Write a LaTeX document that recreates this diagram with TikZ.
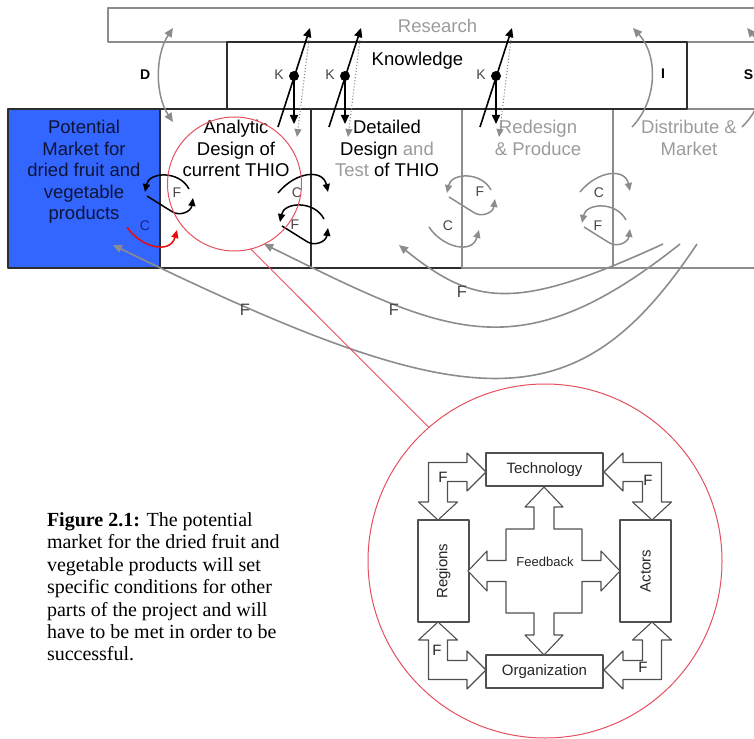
\documentclass[tikz,border=0pt]{standalone}
\usepackage{fontspec}
\setmainfont{Liberation Sans}
\newfontfamily\captionserif{Liberation Serif}
\usetikzlibrary{arrows.meta}

\definecolor{stageblue}{RGB}{51,102,255}
\definecolor{stageink}{RGB}{15,20,55}
\definecolor{paleline}{RGB}{140,140,140}
\definecolor{paletext}{RGB}{155,155,155}
\definecolor{edgeink}{RGB}{45,45,45}
\definecolor{tagink}{RGB}{70,70,70}
\definecolor{focusred}{RGB}{228,80,95}
\definecolor{loopred}{RGB}{235,10,10}
\definecolor{markblue}{RGB}{25,35,150}
\definecolor{schemeink}{RGB}{80,80,80}

\newcommand\setfs[2]{\fontsize{#1}{#2}\selectfont}

\tikzset{
  head/.style={-{Triangle[length=9pt,width=8pt]}},
  dualhead/.style={{Triangle[length=9pt,width=8pt]}-{Triangle[length=9pt,width=8pt]}},
  looppen/.style={line width=1.5pt,-{Triangle[length=8pt,width=7pt]}},
  % feedback cycle: two arrows chasing each other
  floop/.pic={
    \draw[looppen] (44,-3) .. controls (34,-22) and (4,-20) .. (0,0);
    \draw[looppen] (2,4) -- (26,19) .. controls (34,25) and (46,20) .. (48,6);
  },
  % condition arrows, arching over or under a stage border
  cover/.pic={\draw[looppen] (-33,0) .. controls (-15,-22) and (12,-24) .. (17,-1);},
  cunder/.pic={\draw[looppen] (-33,0) .. controls (-20,20) and (10,28) .. (17,3);},
}

\begin{document}
\begin{tikzpicture}[x=1pt,y=-1pt,line join=round,
  every node/.style={inner sep=0pt,outer sep=0pt},
  stagetext/.style={align=center,anchor=north,font=\setfs{18.5}{21.4}},
  tag/.style={font=\setfs{14}{16},text=tagink},
  bigtag/.style={font=\setfs{16.5}{18},text=tagink},
  linetag/.style={font=\bfseries\setfs{14}{16}},
  frame/.style={line width=1.3pt},
  schemebox/.style={draw=schemeink,fill=white,line width=1.1pt,font=\setfs{15}{17},text=black!85},
  schemetext/.style={font=\setfs{15}{17},text=black!85},
  schemearrow/.style={draw=schemeink,fill=white,line width=1.1pt},
]
\clip (0,0) rectangle (754,738);

% Research strip
\draw[paleline,frame] (108,8) rectangle (800,42);
\node[font=\setfs{18.5}{22},text=paletext,anchor=base] (research) at (437.5,32.3) {Research};

% stage boxes and the knowledge band
\fill[stageblue] (8,109) rectangle (160,268);
\draw[edgeink,frame] (8,109) rectangle (160,268);
\draw[edgeink,frame] (160,109) rectangle (311,268);
\draw[edgeink,frame] (311,109) rectangle (462,268);
\draw[paleline,frame] (462,109) rectangle (613,268);
\draw[paleline,frame] (613,109) rectangle (800,268);
\draw[edgeink,frame] (227,42) rectangle (687,109);
\node[font=\setfs{18.5}{22},anchor=base] (knowledge) at (417.5,65.7) {Knowledge};

\node[stagetext,text=stageink] (market) at (84,120.5) {Potential\\Market for\\dried fruit and\\vegetable\\products};
\node[stagetext] (analytic) at (236,120.5) {Analytic\\Design of\\current THIO};
\node[stagetext] (detailed) at (387,120.5) {Detailed\\Design \textcolor{paletext}{and}\\\textcolor{paletext}{Test} of THIO};
\node[stagetext,text=paletext] (redesign) at (538,120.5) {Redesign\\\& Produce};
\node[stagetext,text=paletext] (distribute) at (689,120.5) {Distribute \&\\Market};

% D, I, S links to research
\node[linetag] (dtag) at (145.3,75) {D};
\node[linetag] (itag) at (663,74) {I};
\node[linetag] (stag) at (748.5,75) {S};
\coordinate (dlow) at (173,122); \coordinate (dhigh) at (173,28);
\draw[paleline,line width=1.5pt,dualhead] (dlow) .. controls (155,95) and (155,55) .. (dhigh);
\coordinate (ilow) at (632,127); \coordinate (ihigh) at (633,28);
\draw[paleline,line width=1.5pt,head] (ilow) .. controls (658,100) and (658,55) .. (ihigh);
\coordinate (slow) at (742,127); \coordinate (shigh) at (747,28);
\draw[paleline,line width=1.5pt,head] (slow) .. controls (770,100) and (770,55) .. (shigh);

% knowledge transfer points
\foreach \i/\x in {1/294,2/345,3/496}{
  \node[circle,fill=black,minimum size=10pt] (kdot\i) at (\x,76) {};
  \node[tag,anchor=base] (ktag\i) at (\x-15,80) {K};
  \coordinate (kfoot\i) at (\x-16,127);
  \coordinate (ktop\i) at (\x+16,28);
  \coordinate (kstart\i) at (\x+16,31);
  \coordinate (kdown\i) at (\x,124);
  \coordinate (kfall\i) at (\x+3,137);
  \draw[paleline,line width=1.1pt,dotted,-{Triangle[length=8pt,width=7pt]}] (kstart\i) -- (kfall\i);
  \draw[line width=1.6pt,head] (kfoot\i) -- (ktop\i);
  \draw[line width=1.6pt,head] (kdot\i.center) -- (kdown\i);
}

% cycles and conditions on the stage borders
\pic[black] at (145,192) {floop};
\node[tag] (f1) at (177,193) {F};
\pic[black] at (311,193) {cover};
\node[tag] (c1) at (297,193) {C};
\pic[black] at (280,222) {floop};
\node[tag] (f2) at (295,225) {F};
\pic[loopred] at (160,227) {cunder};
\node[tag,text=markblue] (c0) at (145,226) {C};
\pic[paleline] at (447,193) {floop};
\node[tag] (f3) at (480,192) {F};
\pic[paleline] at (462,227) {cunder};
\node[tag] (c2) at (448,226) {C};
\pic[paleline] at (613,192) {cover};
\node[tag] (c3) at (599,193) {C};
\pic[paleline] at (582,223) {floop};
\node[tag] (f4) at (598,226) {F};

% long feedback arcs from the market stage
\coordinate (r1) at (663,244); \coordinate (t1) at (399,245);
\coordinate (r2) at (680,244); \coordinate (t2) at (264,244);
\coordinate (r3) at (697,244); \coordinate (t3) at (113,245);
\draw[paleline,line width=1.6pt,head] (r1) .. controls (517,311) and (476,307) .. (t1);
\draw[paleline,line width=1.6pt,head] (r2) .. controls (518,373) and (447,334) .. (t2);
\draw[paleline,line width=1.6pt,head] (r3) .. controls (577,424) and (473,421) .. (t3);
\node[bigtag] (fb1) at (462,292) {F};
\node[bigtag] (fb2) at (394,310) {F};
\node[bigtag] (fb3) at (245,310) {F};

% focus on the analytic stage
\node[circle,draw=focusred,line width=1pt,minimum size=134pt] (focus) at (234.5,184) {};
\node[circle,draw=focusred,line width=1pt,minimum size=354pt] (detail) at (545,561) {};
\draw[focusred,line width=0.9pt] (focus.-76) -- (detail.131);

% feedback scheme
\node[schemebox,minimum width=117pt,minimum height=33pt] (tech) at (544.5,469.5) {Technology};
\node[schemebox,minimum width=117pt,minimum height=33pt] (org) at (544.5,671.5) {Organization};
\node[schemebox,minimum width=51pt,minimum height=102pt] (regions) at (443.5,571) {};
\node[schemetext,rotate=90] (regionstext) at (regions) {Regions};
\node[schemebox,minimum width=51pt,minimum height=102pt] (actors) at (645.5,571) {};
\node[schemetext,rotate=90] (actorstext) at (actors) {Actors};

\begin{scope}[shift={(544,571)}]
  \draw[schemearrow] (0,-84) -- (19,-64) -- (10,-64) -- (10,-42) -- (38,-42) -- (38,-10.5)
    -- (57,-10.5) -- (57,-20) -- (76,0) -- (57,20) -- (57,10.5) -- (38,10.5) -- (38,42)
    -- (10,42) -- (10,64) -- (19,64) -- (0,84) -- (-19,64) -- (-10,64) -- (-10,42)
    -- (-38,42) -- (-38,10.5) -- (-57,10.5) -- (-57,20) -- (-76,0) -- (-57,-20)
    -- (-57,-10.5) -- (-38,-10.5) -- (-38,-42) -- (-10,-42) -- (-10,-64) -- (-19,-64) -- cycle;
\end{scope}
\node[font=\setfs{13}{15},text=black!85] (feedback) at (545,562) {Feedback};

\draw[schemearrow] (486,472) -- (467,491) -- (467,481.5) -- (447.5,481.5) -- (447.5,502)
  -- (457.5,502) -- (438,520) -- (418.5,502) -- (428.5,502) -- (428.5,462.5) -- (467,462.5) -- (467,453) -- cycle;
\draw[schemearrow] (604,472) -- (623,491) -- (623,481.5) -- (642.5,481.5) -- (642.5,502)
  -- (632.5,502) -- (652,520) -- (671.5,502) -- (661.5,502) -- (661.5,462.5) -- (623,462.5) -- (623,453) -- cycle;
\draw[schemearrow] (486,670) -- (467,651) -- (467,660.5) -- (447.5,660.5) -- (447.5,640)
  -- (457.5,640) -- (438,622) -- (418.5,640) -- (428.5,640) -- (428.5,679.5) -- (467,679.5) -- (467,689) -- cycle;
\draw[schemearrow] (604,670) -- (623,651) -- (623,660.5) -- (642.5,660.5) -- (642.5,640)
  -- (632.5,640) -- (652,622) -- (671.5,640) -- (661.5,640) -- (661.5,679.5) -- (623,679.5) -- (623,689) -- cycle;
\node[schemetext] (ftl) at (443,477) {F};
\node[schemetext] (ftr) at (648,480) {F};
\node[schemetext] (fbl) at (437,650) {F};
\node[schemetext] (fbr) at (643,667) {F};

% caption
\node[anchor=north west,align=left,font=\captionserif\setfs{20}{22.4}] (caption) at (47,512.6)
  {\textbf{Figure 2.1:} The potential\\market for the dried fruit and\\vegetable products will set\\specific conditions for other\\parts of the project and will\\have to be met in order to be\\successful.};
\end{tikzpicture}
\end{document}
